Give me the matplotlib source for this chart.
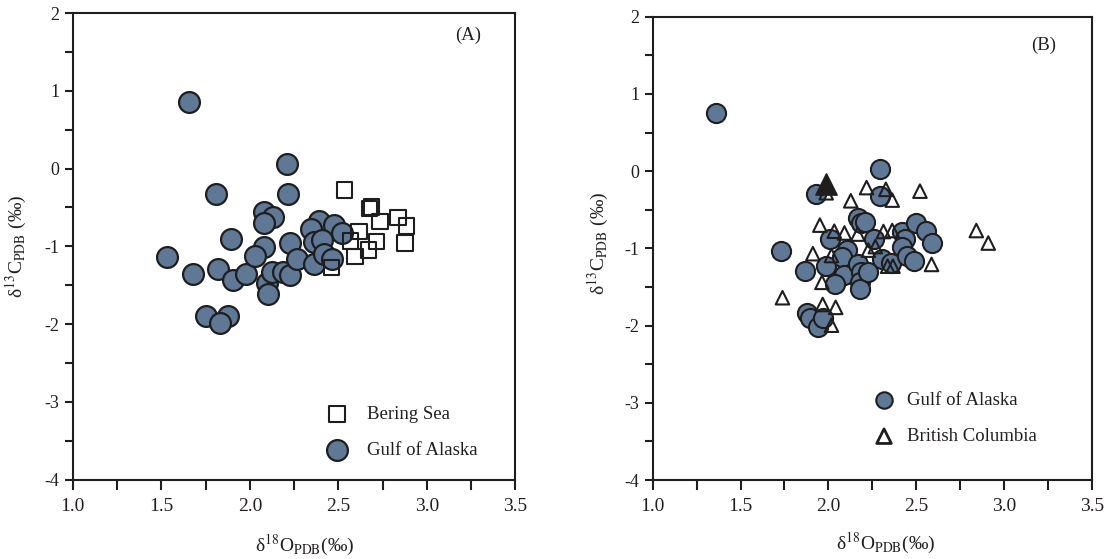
import matplotlib
matplotlib.use('Agg')
import matplotlib.pyplot as plt
from matplotlib.ticker import MultipleLocator

plt.rcParams['font.family'] = ['Liberation Serif', 'DejaVu Serif']
plt.rcParams['mathtext.fontset'] = 'stix'

# Panel A: Bering Sea vs Gulf of Alaska
gulf_a_x = [1.655, 2.209, 2.213, 1.811, 2.080, 2.131, 2.078, 1.896, 1.532, 1.680,
            1.821, 1.907, 1.980, 2.078, 2.031, 2.225, 2.095, 2.100, 2.126, 2.185,
            2.229, 2.268, 2.360, 2.392, 2.346, 2.473, 2.522, 2.360, 2.407, 2.419,
            2.463, 1.753, 1.878, 1.832]
gulf_a_y = [0.860, 0.058, -0.332, -0.326, -0.560, -0.625, -0.702, -0.900, -1.135, -1.355,
            -1.288, -1.435, -1.358, -1.013, -1.120, -0.960, -1.475, -1.612, -1.335, -1.335,
            -1.368, -1.158, -1.230, -0.670, -0.773, -0.730, -0.830, -0.947, -0.913, -1.100,
            -1.168, -1.890, -1.900, -1.990]

bering_x = [2.536, 2.687, 2.677, 2.734, 2.838, 2.885, 2.617, 2.569, 2.716, 2.669,
            2.593, 2.461, 2.876]
bering_y = [-0.275, -0.497, -0.510, -0.682, -0.626, -0.738, -0.811, -0.931, -0.935, -1.047,
            -1.133, -1.274, -0.960]

# Panel B: Gulf of Alaska vs British Columbia
gulf_b_x = [1.359, 2.292, 2.292, 1.929, 1.729, 1.865, 2.008, 1.988, 2.108, 2.078,
            2.088, 2.038, 2.168, 2.188, 2.208, 2.168, 2.188, 2.178, 2.178, 2.228,
            2.258, 2.308, 2.358, 2.418, 2.438, 2.418, 2.448, 2.488, 2.498, 2.558,
            2.588, 1.879, 1.893, 1.939, 1.969]
gulf_b_y = [0.759, 0.032, -0.319, -0.296, -1.032, -1.292, -0.884, -1.231, -1.023, -1.116,
            -1.347, -1.463, -0.606, -0.676, -0.653, -1.208, -1.301, -1.440, -1.532, -1.301,
            -0.884, -1.139, -1.185, -0.792, -0.884, -0.977, -1.093, -1.162, -0.676, -0.769,
            -0.931, -1.833, -1.903, -2.019, -1.903]

bc_x = [1.988, 2.218, 2.328, 2.364, 2.522, 2.128, 1.952, 2.034, 2.092, 2.168,
        2.314, 2.364, 1.912, 2.018, 1.964, 1.739, 1.968, 2.042, 2.018, 2.843,
        2.911, 2.588, 2.228, 2.338, 2.368, 2.268]
bc_y = [-0.280, -0.213, -0.236, -0.375, -0.259, -0.384, -0.699, -0.778, -0.801, -0.815,
        -0.782, -0.769, -1.069, -1.093, -1.440, -1.639, -1.727, -1.764, -1.995, -0.769,
        -0.931, -1.208, -1.023, -1.231, -1.231, -0.977]
bc_hl_x = [1.985]
bc_hl_y = [-0.16]

blue = '#5f7896'
edge = '#1e1e1e'
txt = '#231f20'


def style_axes(ax):
    ax.set_xlim(1.0, 3.5)
    ax.set_ylim(-4, 2)
    ax.xaxis.set_major_locator(MultipleLocator(0.5))
    ax.xaxis.set_minor_locator(MultipleLocator(0.25))
    ax.yaxis.set_major_locator(MultipleLocator(1))
    ax.yaxis.set_minor_locator(MultipleLocator(0.5))
    ax.xaxis.set_major_formatter(plt.FormatStrFormatter('%.1f'))
    ax.yaxis.set_major_formatter(plt.FormatStrFormatter('%d'))
    ax.tick_params(axis='x', which='both', direction='out', length=7, width=1.5,
                   pad=6, labelsize=14, colors=edge, labelcolor=txt)
    ax.tick_params(axis='y', which='both', direction='out', length=5.5, width=1.5,
                   pad=4, labelsize=13, colors=edge, labelcolor=txt)
    for s in ax.spines.values():
        s.set_linewidth(1.5)
        s.set_color(edge)
    ax.set_xlabel('δ$^{18}$O$_{\\mathrm{PDB}}$(‰)', fontsize=14, color=txt)
    ax.set_ylabel('δ$^{13}$C$_{\\mathrm{PDB}}$ (‰)', fontsize=14, color=txt)


fig = plt.figure(figsize=(11.11, 5.59), dpi=100)
ax1 = fig.add_axes([0.0655, 0.1422, 0.3984, 0.8342])
ax2 = fig.add_axes([0.5875, 0.1413, 0.3951, 0.8288])

# (A)
g1 = ax1.scatter(gulf_a_x, gulf_a_y, s=225, marker='o', facecolor=blue,
                 edgecolor=edge, linewidth=1.6, label='Gulf of Alaska', zorder=2)
b1 = ax1.scatter(bering_x, bering_y, s=125, marker='s', facecolor='none',
                 edgecolor=edge, linewidth=1.5, label='Bering Sea', zorder=3)
style_axes(ax1)
ax1.xaxis.set_label_coords(0.525, -0.115)
ax1.yaxis.set_label_coords(-0.10, 0.5)
ax1.text(0.893, 0.952, '(A)', transform=ax1.transAxes, ha='center', va='center',
         fontsize=13.5, color=txt)
leg1 = ax1.legend([b1, g1], ['Bering Sea', 'Gulf of Alaska'], loc='upper left',
                  bbox_to_anchor=(0.55, 0.178), frameon=False, fontsize=13.5,
                  borderpad=0, handlelength=1.2, handletextpad=1.0,
                  labelspacing=1.0, scatterpoints=1)
for t in leg1.get_texts():
    t.set_color(txt)

# (B)
g2 = ax2.scatter(gulf_b_x, gulf_b_y, s=190, marker='o', facecolor=blue,
                 edgecolor=edge, linewidth=1.5, label='Gulf of Alaska', zorder=2)
t2 = ax2.scatter(bc_x, bc_y, s=95, marker='^', facecolor='none',
                 edgecolor=edge, linewidth=1.5, label='British Columbia', zorder=3)
ax2.scatter(bc_hl_x, bc_hl_y, s=230, marker='^', facecolor=edge,
            edgecolor=edge, linewidth=1.2, zorder=4)
style_axes(ax2)
ax2.xaxis.set_label_coords(0.531, -0.11)
ax2.yaxis.set_label_coords(-0.096, 0.51)
ax2.text(0.891, 0.938, '(B)', transform=ax2.transAxes, ha='center', va='center',
         fontsize=13.5, color=txt)
leg2 = ax2.legend([g2, t2], ['Gulf of Alaska', 'British Columbia'], loc='upper left',
                  bbox_to_anchor=(0.48, 0.21), frameon=False, fontsize=13.5,
                  borderpad=0, handlelength=1.2, handletextpad=0.6,
                  labelspacing=1.0, scatterpoints=1)
leg2.legend_handles[0].set_sizes([140])
leg2.legend_handles[1].set_sizes([110])
leg2.legend_handles[1].set_linewidth(2)
for t in leg2.get_texts():
    t.set_color(txt)

fig.savefig('out.png', dpi=100)
